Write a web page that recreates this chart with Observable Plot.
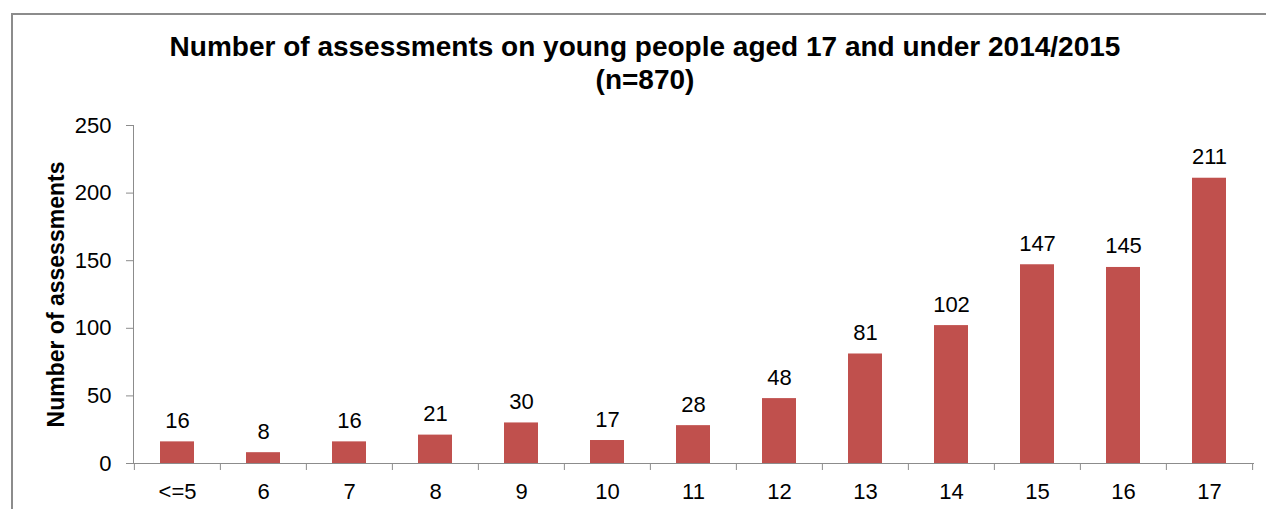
<!DOCTYPE html>
<html>
<head>
<meta charset="utf-8">
<script src="https://cdn.jsdelivr.net/npm/d3@7"></script>
<script src="https://cdn.jsdelivr.net/npm/@observablehq/plot@0.6"></script>
<style>
  html, body { margin: 0; padding: 0; background: #fff; overflow: hidden; }
  #wrap { position: relative; width: 1266px; height: 509px; overflow: hidden; font-family: "Liberation Sans", Arial, sans-serif; }
  #border { position: absolute; left: 11px; top: 13px; width: 2000px; height: 1000px; border: 2px solid #8c8c8c; box-sizing: border-box; }
  #title { position: absolute; left: 0; top: 30px; width: 1290px; text-align: center; font-weight: bold; font-size: 28px; line-height: 33px; color: #000; }
  #chart { position: absolute; left: 0; top: 0; }
</style>
</head>
<body>
<div id="wrap">
  <div id="border"></div>
  <div id="chart"></div>
  <div id="title">Number of assessments on young people aged 17 and under 2014/2015<br>(n=870)</div>
</div>
<script>
// Assessments by age group
const ages = ["<=5", "6", "7", "8", "9", "10", "11", "12", "13", "14", "15", "16", "17"];
const counts = [16, 8, 16, 21, 30, 17, 28, 48, 81, 102, 147, 145, 211];
const yTicks = [0, 50, 100, 150, 200, 250];
const yLabel = "Number of assessments";

const data = ages.map((age, i) => ({age, count: counts[i]}));

const W = 1266, H = 509;
const mL = 133, mR = 12, mT = 125, mB = 46;
const step = (W - mL - mR) / ages.length; // width of one category slot
const axisGray = "#8c8c8c";
const barColor = "#C0504D";

const chart = Plot.plot({
  width: W,
  height: H,
  marginLeft: mL,
  marginRight: mR,
  marginTop: mT,
  marginBottom: mB,
  style: {fontFamily: '"Liberation Sans", Arial, sans-serif', fontSize: "22px", color: "#000", background: "transparent", overflow: "visible"},
  x: {domain: ages, paddingInner: 0.6, paddingOuter: 0.3, label: null},
  y: {domain: [0, 250], label: null},
  marks: [
    Plot.barY(data, {x: "age", y: "count", fill: barColor}),
    Plot.frame({anchor: "left", stroke: axisGray}),
    Plot.ruleY([0], {stroke: axisGray}),
    Plot.axisY({ticks: yTicks, tickSize: 7, tickPadding: 15, stroke: axisGray, label: null, fontSize: 22}),
    // category boundary ticks below the baseline
    Plot.axisX({ticks: ages, tickSize: 7, text: null, stroke: axisGray, dx: -step / 2, label: null}),
    Plot.axisX({ticks: [ages[ages.length - 1]], tickSize: 7, text: null, stroke: axisGray, dx: step / 2, label: null}),
    // category labels
    Plot.axisX({ticks: ages, tickSize: 0, tickPadding: 20, label: null, fontSize: 22}),
    // value labels above bars
    Plot.text(data, {x: "age", y: "count", text: d => String(d.count), lineAnchor: "bottom", dy: -14, fontSize: 22, fill: "#000"}),
    // y axis title
    Plot.text([yLabel], {frameAnchor: "left", textAnchor: "middle", rotate: -90, dx: -77, fontSize: 23, fontWeight: "bold", fill: "#000"})
  ]
});

document.getElementById("chart").appendChild(chart);
</script>
</body>
</html>
